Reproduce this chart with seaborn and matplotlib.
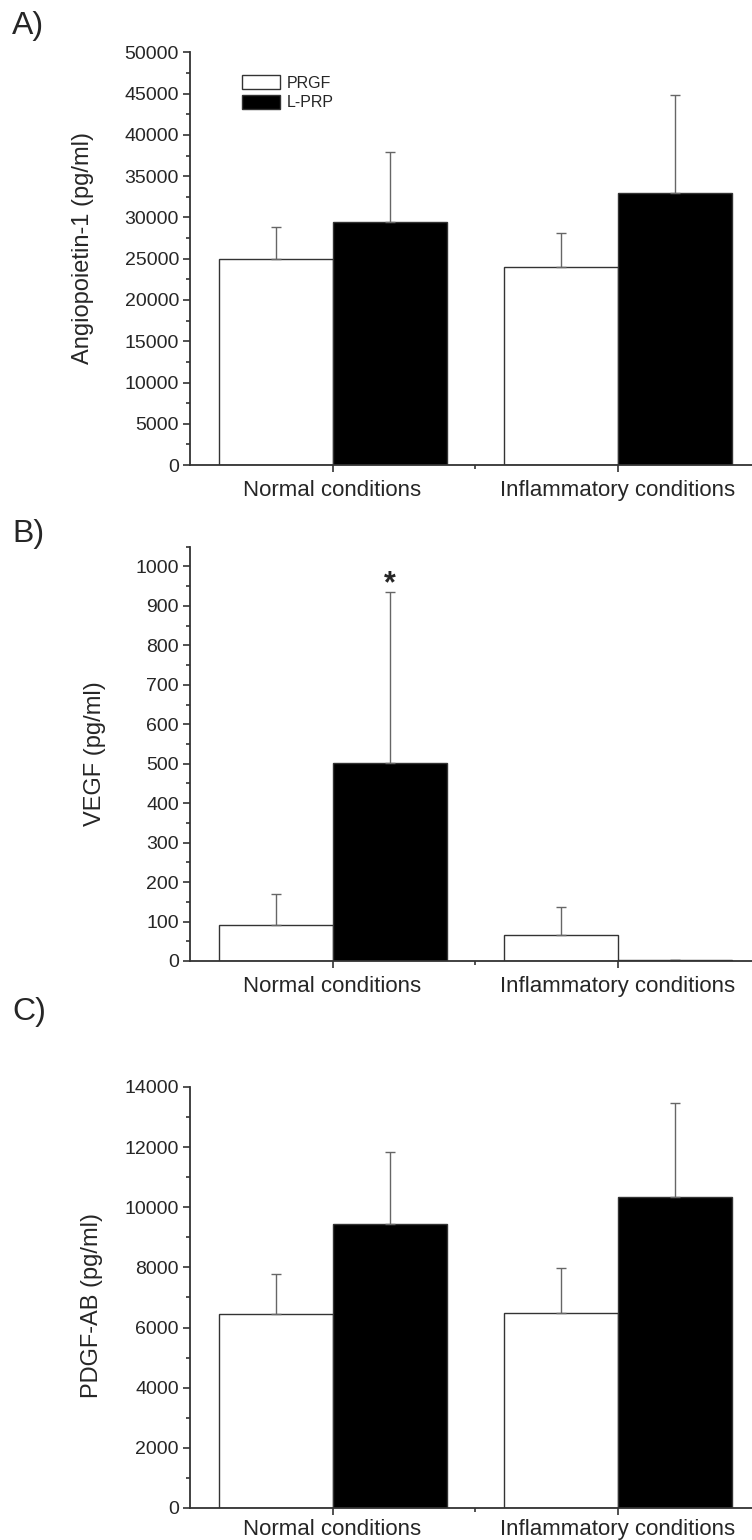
import numpy as np
import pandas as pd
import matplotlib
matplotlib.use("Agg")
import matplotlib.pyplot as plt
import seaborn as sns
from matplotlib.ticker import MultipleLocator, FixedLocator

# data
conditions = ["Normal conditions", "Inflammatory conditions"]
groups = ["PRGF", "L-PRP"]

ang_mean = {"PRGF": [25000, 24000], "L-PRP": [29500, 33000]}
ang_sd = {"PRGF": [3800, 4100], "L-PRP": [8400, 11800]}

vegf_mean = {"PRGF": [90, 66], "L-PRP": [503, 2]}
vegf_sd = {"PRGF": [80, 72], "L-PRP": [432, 1]}

pdgf_mean = {"PRGF": [6450, 6480], "L-PRP": [9450, 10330]}
pdgf_sd = {"PRGF": [1330, 1500], "L-PRP": [2400, 3120]}

panels = [
    ("A)", "Angiopoietin-1 (pg/ml)", ang_mean, ang_sd, 50000, 5000),
    ("B)", "VEGF (pg/ml)", vegf_mean, vegf_sd, 1050, 100),
    ("C)", "PDGF-AB (pg/ml)", pdgf_mean, pdgf_sd, 14000, 2000),
]

sns.set_style("ticks")
plt.rcParams["font.family"] = ["Liberation Sans", "DejaVu Sans"]

fig = plt.figure(figsize=(7.52, 15.40), dpi=100)

# axes boxes in figure fractions (left, bottom, width, height)
boxes = [
    [0.2527, 0.698, 0.758, 0.268],
    [0.2527, 0.376, 0.758, 0.269],
    [0.2527, 0.0208, 0.758, 0.2734],
]
tag_y = [0.983, 0.653, 0.343]
ylab_xy = [(-0.169, 0.525), (-0.148, 0.5), (-0.152, 0.48)]
xpad = [5.5, 5.5, 3]

edge = "#333333"

for (tag, ylab, means, sds, ymax, step), box, ty, lxy, pad in zip(
        panels, boxes, tag_y, ylab_xy, xpad):
    ax = fig.add_axes(box)
    df = pd.DataFrame({
        "condition": conditions * 2,
        "group": [g for g in groups for _ in conditions],
        "value": means["PRGF"] + means["L-PRP"],
        "sd": sds["PRGF"] + sds["L-PRP"],
    })
    sns.barplot(data=df, x="condition", y="value", hue="group",
                palette={"PRGF": "white", "L-PRP": "black"},
                edgecolor=edge, linewidth=1.0, errorbar=None,
                legend=(tag == "A)"), ax=ax)

    # one-sided error bars placed on the bars seaborn drew
    bars = [p for p in ax.patches if p.get_width() > 0][:4]
    xs = [p.get_x() + p.get_width() / 2 for p in bars]
    hs = [p.get_height() for p in bars]
    errs = list(df["sd"])
    ax.errorbar(xs, hs, yerr=[np.zeros(len(errs)), errs], fmt="none",
                ecolor="#666666", elinewidth=1.0, capsize=3.5, capthick=1.0,
                zorder=1)

    ax.set_xlim(-0.5, 1.5)
    ax.set_ylim(0, ymax)
    ax.yaxis.set_major_locator(MultipleLocator(step))
    ax.yaxis.set_minor_locator(MultipleLocator(step / 2))
    ax.xaxis.set_minor_locator(FixedLocator([0.5]))
    ax.set_xlabel("")
    ax.set_ylabel(ylab, fontsize=17)
    ax.yaxis.set_label_coords(*lxy)
    ax.tick_params(axis="both", which="major", direction="out", length=5,
                   width=1.2, color=edge, labelsize=14, pad=3)
    ax.tick_params(axis="both", which="minor", direction="out", length=3,
                   width=1.2, color=edge)
    ax.tick_params(axis="x", labelsize=16, pad=pad)
    sns.despine(ax=ax)
    for s in ["left", "bottom"]:
        ax.spines[s].set_color(edge)
        ax.spines[s].set_linewidth(1.3)

    fig.text(0.016, ty, tag, fontsize=23, ha="left", va="center")

    if tag == "A)":
        leg = ax.legend(loc="upper left", bbox_to_anchor=(0.091, 0.944),
                        frameon=False, fontsize=11.5, handlelength=2.4,
                        handleheight=0.95, handletextpad=0.4,
                        labelspacing=0.25, borderaxespad=0, borderpad=0)
        for hnd in leg.legend_handles:
            hnd.set_edgecolor(edge)
            hnd.set_linewidth(1.0)
    if tag == "B)":
        ax.text(xs[2], 955, "*", ha="center", va="center",
                fontsize=22, fontweight="bold")

fig.savefig("out.png", dpi=100)
